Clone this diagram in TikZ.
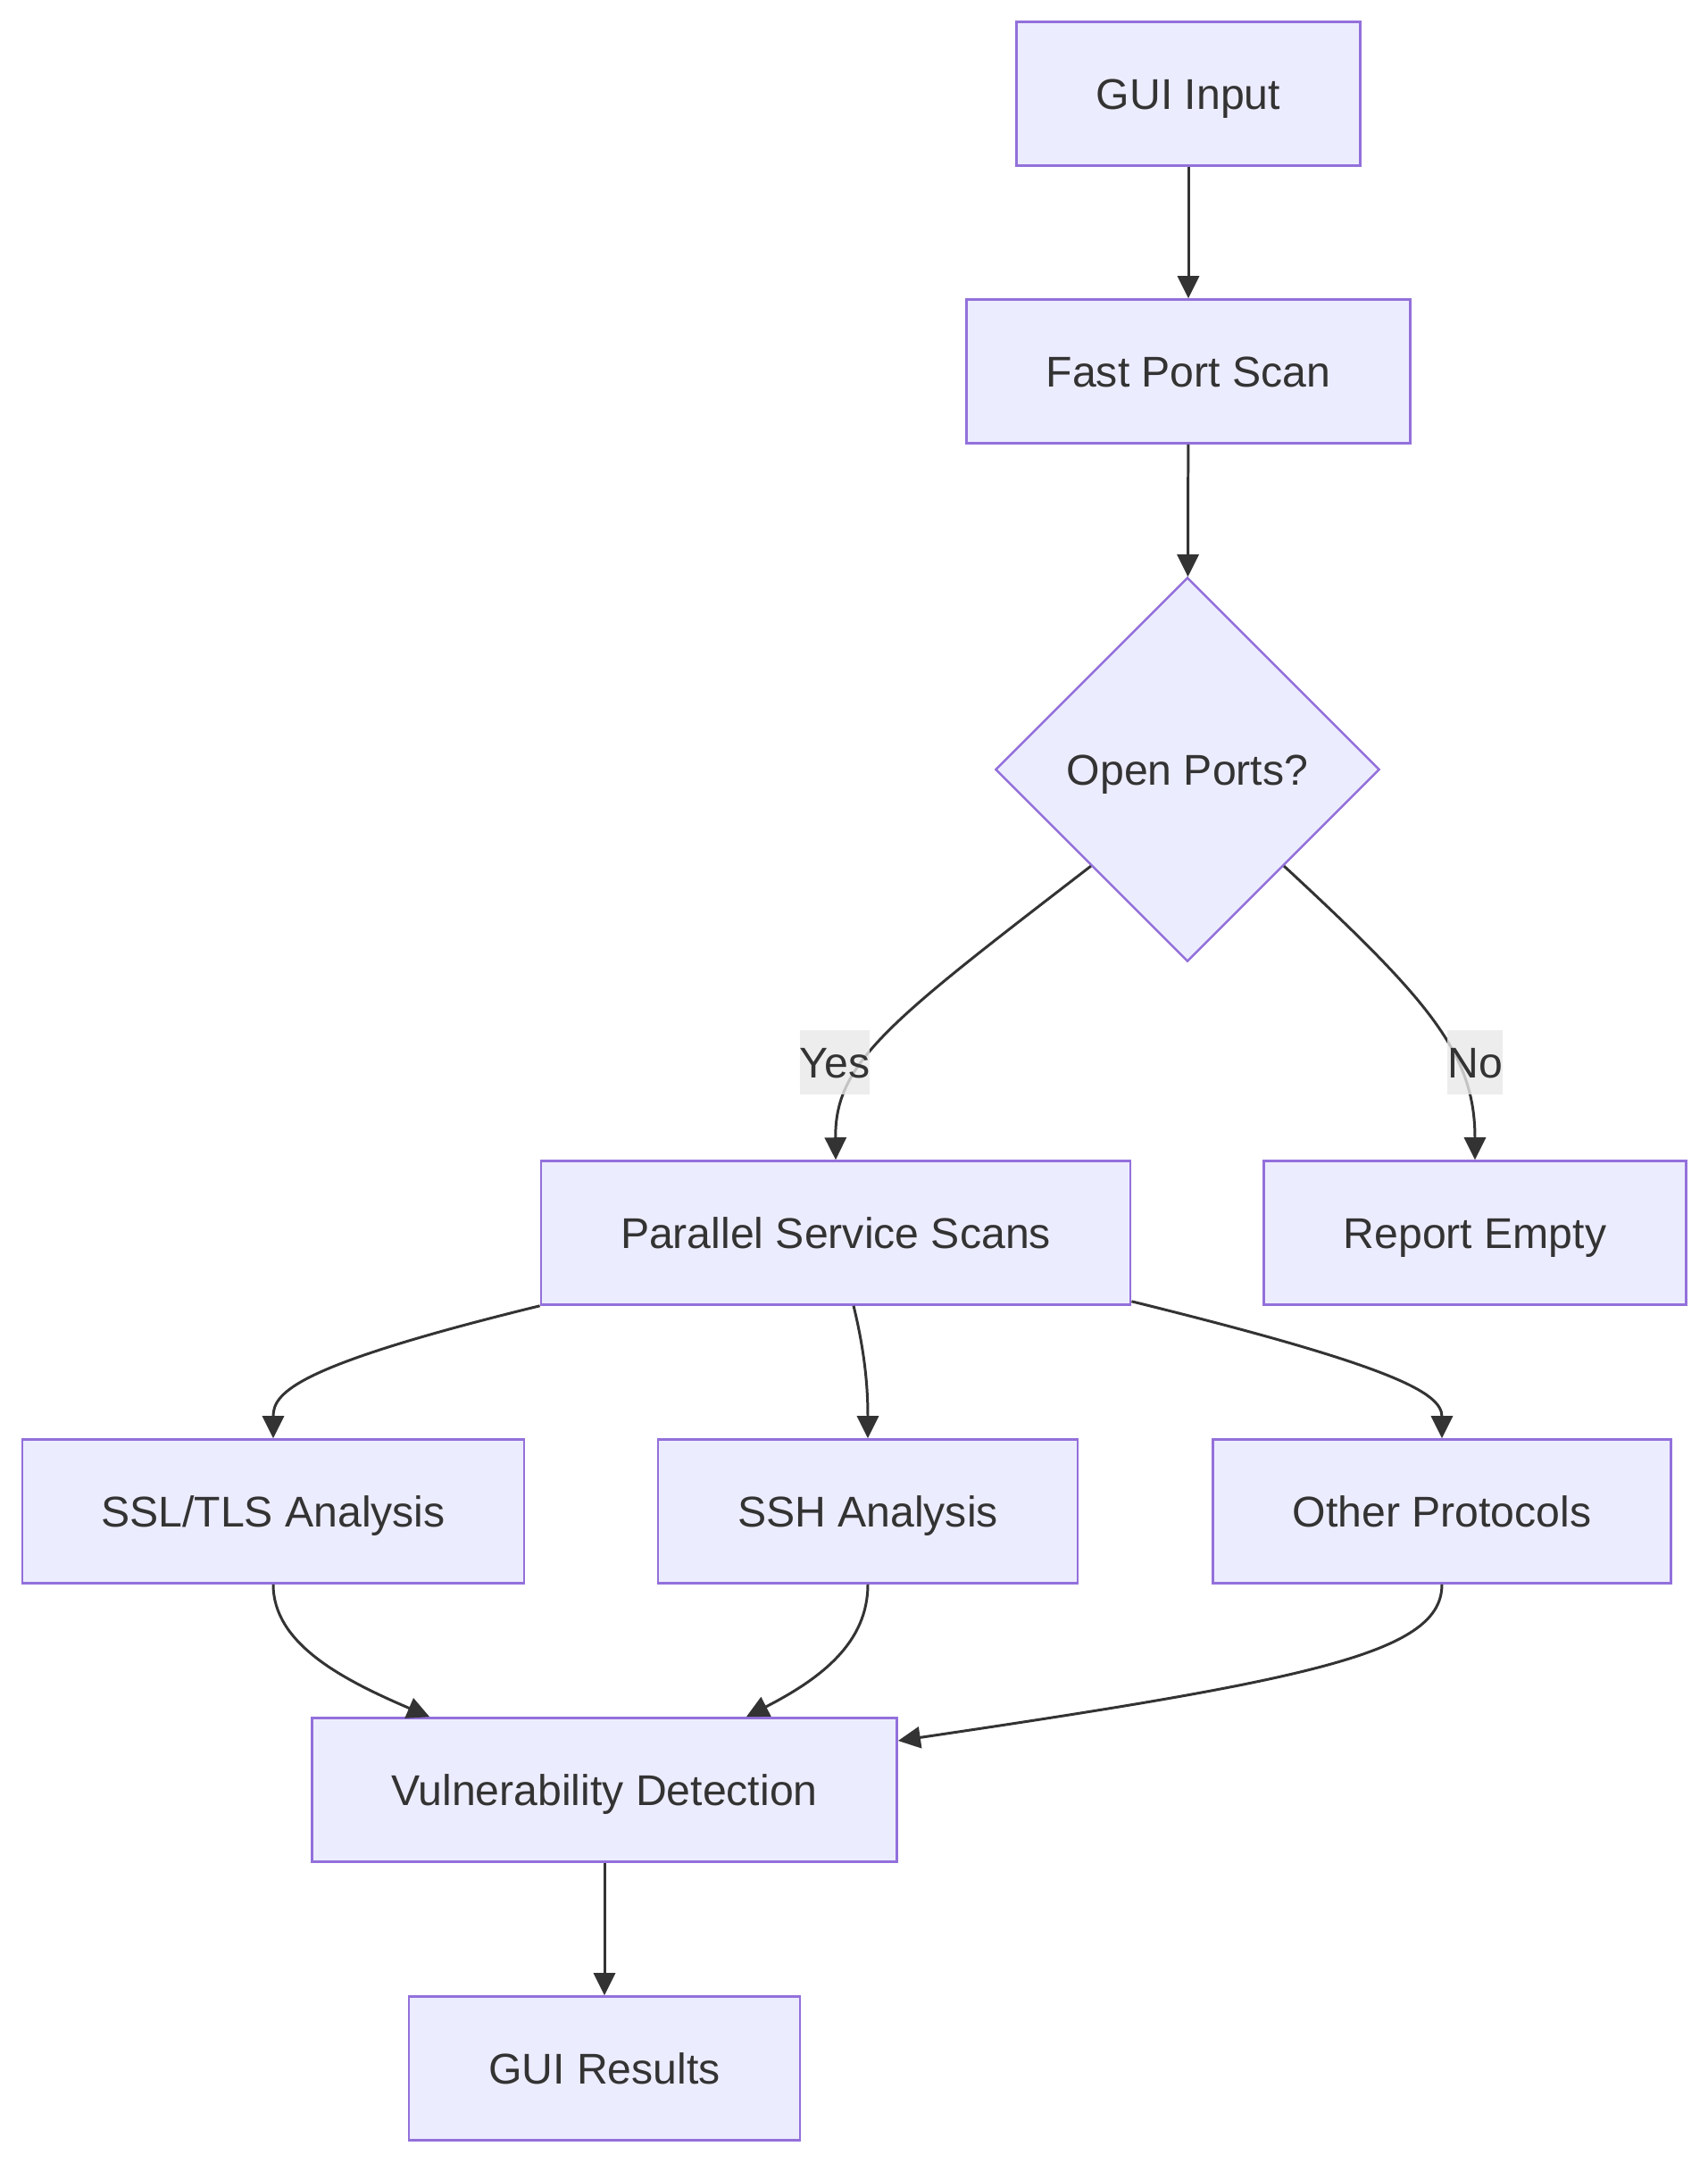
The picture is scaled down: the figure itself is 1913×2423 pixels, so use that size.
\documentclass[tikz,border=0pt]{standalone}
\usepackage{fontspec}
\setmainfont{Liberation Sans}
\usetikzlibrary{shapes.geometric, arrows.meta}

\definecolor{boxfill}{HTML}{ECECFF}
\definecolor{boxline}{HTML}{9370DB}
\definecolor{ink}{HTML}{333333}
\definecolor{lblfill}{HTML}{E8E8E8}

\tikzset{
  box/.style={draw=boxline, fill=boxfill, line width=0.7pt, text=ink, inner sep=0pt, minimum height=1.61cm, text height=12.8pt, text depth=3pt},
  decision/.style={diamond, aspect=1, draw=boxline, fill=boxfill, line width=0.7pt, text=ink, inner sep=0pt, minimum size=4.3cm, text height=12.8pt, text depth=3pt},
  flow/.style={draw=ink, line width=0.85pt, -{Triangle[length=0.25cm, width=0.24cm]}},
  lbl/.style={fill=lblfill, fill opacity=0.8, text opacity=1, text=ink, inner sep=0pt, minimum height=0.71cm, text height=12.8pt, text depth=3pt}
}

\begin{document}
\begin{tikzpicture}[x=0.01cm, y=-0.01cm, font=\fontsize{13.7}{16}\selectfont]
\useasboundingbox (0,0) rectangle (1913,2423);
% nodes
\node[box, minimum width=3.85cm] (gui) at (1331,105) {GUI Input};
\node[box, minimum width=4.97cm] (fast) at (1331,416) {Fast Port Scan};
\node[decision] (open) at (1330,862) {Open Ports?};
\node[box, minimum width=6.60cm] (parallel) at (936,1381) {Parallel Service Scans};
\node[box, minimum width=4.73cm] (empty) at (1652,1381) {Report Empty};
\node[box, minimum width=5.62cm] (ssl) at (306,1693) {SSL/TLS Analysis};
\node[box, minimum width=4.70cm] (ssh) at (972,1693) {SSH Analysis};
\node[box, minimum width=5.13cm] (other) at (1615,1693) {Other Protocols};
\node[box, minimum width=6.55cm] (vuln) at (677,2005) {Vulnerability Detection};
\node[box, minimum width=4.38cm] (results) at (677,2317) {GUI Results};
% edges
\draw[flow] (gui) -- (fast);
\draw[flow] (fast) -- (open);
\draw[flow] (open.south west) .. controls (995,1145) and (935,1190) .. (parallel.north);
\draw[flow] (open.south east) .. controls (1600,1120) and (1652,1180) .. (empty.north);
\node[lbl] (yes) at (935,1190) {Yes};
\node[lbl] (no) at (1652,1190) {No};
\draw[flow] (parallel.south west) .. controls (330,1530) and (306,1560) .. (ssl.north);
\draw[flow] ([xshift=0.2cm]parallel.south) .. controls (970,1520) and (972,1560) .. (ssh.north);
\draw[flow] ([yshift=0.05cm]parallel.south east) .. controls (1560,1530) and (1615,1560) .. (other.north);
\draw[flow] (ssl.south) .. controls (306,1840) and (380,1880) .. ([xshift=1.33cm]vuln.north west);
\draw[flow] (ssh.south) .. controls (972,1840) and (920,1880) .. ([xshift=-1.70cm]vuln.north east);
\draw[flow] (other.south) .. controls (1615,1850) and (1480,1880) .. ([yshift=0.55cm]vuln.east);
\draw[flow] (vuln) -- (results);
\end{tikzpicture}
\end{document}
